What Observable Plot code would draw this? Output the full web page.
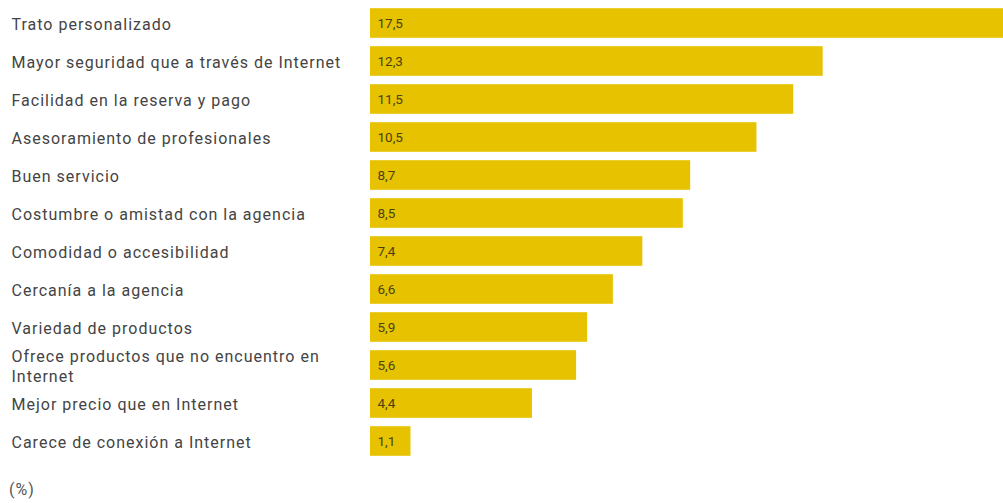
<!DOCTYPE html>
<html>
<head>
<meta charset="utf-8">
<script src="https://cdn.jsdelivr.net/npm/d3@7"></script>
<script src="https://cdn.jsdelivr.net/npm/@observablehq/plot@0.6"></script>
<style>
  html, body { margin: 0; padding: 0; background: #fff; overflow: hidden; }
  body { width: 1003px; height: 503px; font-family: Roboto, "Noto Sans", sans-serif; }
  #caption { font-size: 16px; letter-spacing: 1px; color: #555; padding: 10px 0 0 9px; line-height: 19px; }
</style>
</head>
<body>
<div id="chart"></div>
<div id="caption">(%)</div>
<script>
const categories = [
  "Trato personalizado",
  "Mayor seguridad que a través de Internet",
  "Facilidad en la reserva y pago",
  "Asesoramiento de profesionales",
  "Buen servicio",
  "Costumbre o amistad con la agencia",
  "Comodidad o accesibilidad",
  "Cercanía a la agencia",
  "Variedad de productos",
  "Ofrece productos que no encuentro en\nInternet",
  "Mejor precio que en Internet",
  "Carece de conexión a Internet"
];
const values = [17.5, 12.3, 11.5, 10.5, 8.7, 8.5, 7.4, 6.6, 5.9, 5.6, 4.4, 1.1];
const valueLabels = ["17,5", "12,3", "11,5", "10,5", "8,7", "8,5", "7,4", "6,6", "5,9", "5,6", "4,4", "1,1"];

const data = categories.map((c, i) => ({cat: c, value: values[i], label: valueLabels[i]}));

const chart = Plot.plot({
  width: 1003,
  height: 470,
  marginLeft: 370,
  marginRight: 0,
  marginTop: 1,
  marginBottom: 8,
  style: {fontFamily: "Roboto, 'Noto Sans', sans-serif", background: "#fff", overflow: "hidden"},
  x: {domain: [0, 17.2], axis: null},
  y: {domain: categories, padding: 0, axis: null},
  marks: [
    Plot.barX(data, {x: "value", y: "cat", fill: "#E6C200", insetTop: 4.2, insetBottom: 4.2, clip: true}),
    Plot.text(data, {y: "cat", text: "cat", frameAnchor: "left", textAnchor: "start", dx: -359, fontSize: 16, fill: "#444", lineHeight: 1.25}),
    Plot.text(data, {y: "cat", text: "label", frameAnchor: "left", textAnchor: "start", dx: 7, fontSize: 13.5, fill: "#4a4210"})
  ]
});
const textGroups = chart.querySelectorAll('g[aria-label="text"]');
if (textGroups.length) textGroups[0].style.letterSpacing = "1px";
document.getElementById("chart").appendChild(chart);
</script>
</body>
</html>
